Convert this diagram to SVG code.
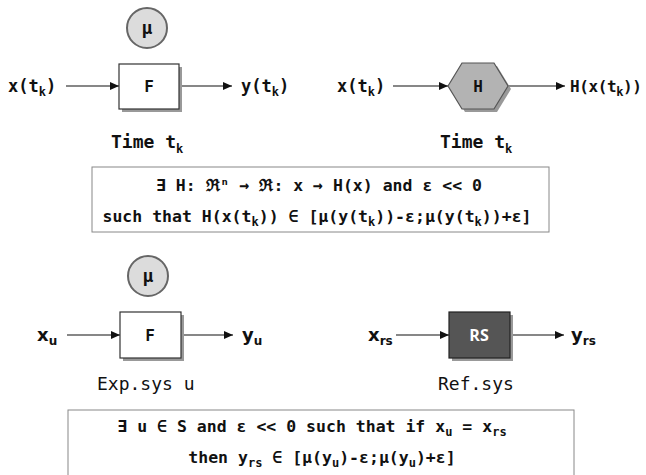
<svg xmlns="http://www.w3.org/2000/svg" width="646" height="475" viewBox="0 0 646 475">
<style>
.m{font-family:"DejaVu Sans Mono","Liberation Mono",monospace;font-weight:bold;font-size:17px;fill:#111}
.f{font-family:"DejaVu Sans Mono","Liberation Mono",monospace;font-weight:bold;font-size:16.5px;fill:#111}
.r{font-family:"DejaVu Sans Mono","Liberation Mono",monospace;font-size:18px;fill:#111}
.s{font-family:"DejaVu Sans",sans-serif;font-weight:bold;font-size:18px;fill:#111}
.sub{font-size:12px}
.c{text-anchor:middle}
.mu{fill:#dcdcdc;stroke:#666;stroke-width:2}
.box{fill:#fff;stroke:#333;stroke-width:1.2}
.sh{fill:#999}
.fb{fill:#fff;stroke:#888;stroke-width:1}
.ln{stroke:#111;stroke-width:1.2;fill:none;marker-end:url(#a)}
</style>
<defs>
<marker id="a" markerWidth="10" markerHeight="8" refX="9" refY="4" orient="auto" markerUnits="userSpaceOnUse">
<path d="M0,0 L9,4 L0,8 Z" fill="#111"/>
</marker>
</defs>
<g id="connectors">
<line class="ln" x1="66" y1="86" x2="119" y2="86"/>
<line class="ln" x1="179" y1="86" x2="232" y2="86"/>
<line class="ln" x1="393" y1="86" x2="448" y2="86"/>
<line class="ln" x1="508" y1="86" x2="565" y2="86"/>
<line class="ln" x1="67" y1="335" x2="120" y2="335"/>
<line class="ln" x1="181" y1="335" x2="233" y2="335"/>
<line class="ln" x1="396" y1="335" x2="449" y2="335"/>
<line class="ln" x1="510" y1="335" x2="564" y2="335"/>
</g>
<g id="mu1"><circle class="mu" cx="147" cy="28" r="20"/><text class="m c" x="147" y="34" style="font-size:18px">μ</text></g>
<g id="F1"><rect class="sh" x="122" y="67" width="60" height="45"/><rect class="box" x="119" y="64" width="60" height="45"/><text class="m c" x="149" y="92" style="font-size:16px">F</text></g>
<g id="xtk1"><text class="m" x="8" y="92">x(t<tspan class="sub" dy="4">k</tspan><tspan dy="-4">)</tspan></text></g>
<g id="ytk1"><text class="m" x="241" y="92">y(t<tspan class="sub" dy="4">k</tspan><tspan dy="-4">)</tspan></text></g>
<g id="time1"><text class="m" x="111" y="148" style="font-size:18px">Time t<tspan class="sub" dy="5">k</tspan></text></g>
<g id="H"><polygon points="451,89 465,66 497,66 511,89 497,112 465,112" fill="#999"/><polygon points="448,86 462,63 494,63 508,86 494,109 462,109" fill="#b3b3b3" stroke="#555" stroke-width="1.2"/><text class="m c" x="478" y="92" style="font-size:16px">H</text></g>
<g id="xtk2"><text class="m" x="337" y="92">x(t<tspan class="sub" dy="4">k</tspan><tspan dy="-4">)</tspan></text></g>
<g id="Hx"><text class="m" x="570" y="92" style="font-size:16px;letter-spacing:-0.4px">H(x(t<tspan class="sub" dy="4">k</tspan><tspan dy="-4">))</tspan></text></g>
<g id="time2"><text class="m" x="440" y="148" style="font-size:18px">Time t<tspan class="sub" dy="5">k</tspan></text></g>
<g id="formula1">
<rect class="fb" x="92" y="167" width="457" height="65"/>
<text class="f c" x="319" y="191">∃ H: ℜⁿ → ℜ: x → H(x) and ε &lt;&lt; 0</text>
<text class="f c" x="317" y="222">such that H(x(t<tspan class="sub" dy="4">k</tspan><tspan dy="-4">)) ∈ [μ(y(t</tspan><tspan class="sub" dy="4">k</tspan><tspan dy="-4">))-ε;μ(y(t</tspan><tspan class="sub" dy="4">k</tspan><tspan dy="-4">))+ε]</tspan></text>
</g>
<g id="mu2"><circle class="mu" cx="148" cy="276" r="20"/><text class="m c" x="148" y="282" style="font-size:18px">μ</text></g>
<g id="F2"><rect class="sh" x="123" y="315" width="61" height="46"/><rect class="box" x="120" y="312" width="61" height="46"/><text class="m c" x="150" y="341" style="font-size:16px">F</text></g>
<g id="xu"><text class="s" x="37" y="341">x<tspan class="sub" dy="4">u</tspan></text></g>
<g id="yu"><text class="s" x="242" y="341">y<tspan class="sub" dy="4">u</tspan></text></g>
<g id="exp"><text class="r" x="97" y="390">Exp.sys u</text></g>
<g id="RS"><rect class="sh" x="452" y="315" width="61" height="46"/><rect x="449" y="312" width="61" height="46" fill="#555" stroke="#222" stroke-width="1.2"/><text class="c" x="479" y="341" style="font-family:'Open Sans','DejaVu Sans',sans-serif;font-weight:bold;font-size:16px;fill:#fff">RS</text></g>
<g id="xrs"><text x="368" y="341" style="font-family:'DejaVu Sans',sans-serif;font-weight:600;font-size:18px;fill:#111">x<tspan class="sub" dy="4">rs</tspan></text></g>
<g id="yrs"><text x="571" y="341" style="font-family:'DejaVu Sans',sans-serif;font-weight:600;font-size:18px;fill:#111">y<tspan class="sub" dy="4">rs</tspan></text></g>
<g id="ref"><text class="r" x="438" y="390">Ref.sys</text></g>
<g id="formula2">
<rect class="fb" x="68" y="410" width="506" height="70"/>
<text class="f c" x="312" y="432">∃ u ∈ S and ε &lt;&lt; 0 such that if x<tspan class="sub" dy="4">u</tspan><tspan dy="-4"> = x</tspan><tspan class="sub" dy="4">rs</tspan></text>
<text class="f c" x="322" y="463">then y<tspan class="sub" dy="4">rs</tspan><tspan dy="-4"> ∈ [μ(y</tspan><tspan class="sub" dy="4">u</tspan><tspan dy="-4">)-ε;μ(y</tspan><tspan class="sub" dy="4">u</tspan><tspan dy="-4">)+ε]</tspan></text>
</g>
</svg>
